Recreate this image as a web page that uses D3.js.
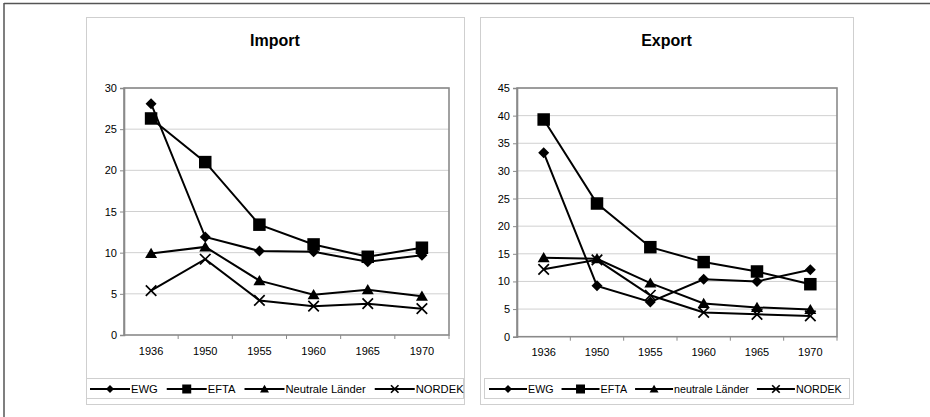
<!DOCTYPE html>
<html><head><meta charset="utf-8">
<script src="https://cdn.jsdelivr.net/npm/d3@7"></script>
<style>body{margin:0;background:#fff;} svg{display:block;font-family:"Liberation Sans",Arial,sans-serif;}</style>
</head><body>
<svg id="c" width="930" height="417"></svg>
<script>
const years = ["1936","1950","1955","1960","1965","1970"];
const importTicks = [0,5,10,15,20,25,30];
const exportTicks = [0,5,10,15,20,25,30,35,40,45];
const importEWG = [28.1,11.9,10.2,10.1,8.9,9.7];
const importEFTA = [26.3,21.0,13.4,11.0,9.5,10.6];
const importNeutral = [9.9,10.7,6.6,4.9,5.5,4.7];
const importNORDEK = [5.4,9.2,4.2,3.5,3.8,3.2];
const exportEWG = [33.3,9.2,6.3,10.4,10.0,12.1];
const exportEFTA = [39.3,24.1,16.2,13.5,11.8,9.5];
const exportNeutral = [14.3,14.1,9.7,6.0,5.3,4.9];
const exportNORDEK = [12.2,13.9,7.5,4.4,4.05,3.75];
const importNames = ["EWG","EFTA","Neutrale Länder","NORDEK"];
const exportNames = ["EWG","EFTA","neutrale Länder","NORDEK"];
const markerTypes = ["diamond","square","triangle","x"];

const svg = d3.select("#c");
// outer frame (top and left edges)
svg.append("line").attr("x1",4).attr("x2",930).attr("y1",3.5).attr("y2",3.5).attr("stroke","#555").attr("stroke-width",1.5);
svg.append("line").attr("x1",4).attr("x2",4).attr("y1",3).attr("y2",417).attr("stroke","#555").attr("stroke-width",1.5);

function markerPath(type, s){
  const h = s/2;
  if(type==="diamond") return `M0,${-h}L${h},0L0,${h}L${-h},0Z`;
  if(type==="square") return `M${-h},${-h}H${h}V${h}H${-h}Z`;
  if(type==="triangle") return `M0,${-h*0.95}L${h},${h*0.75}L${-h},${h*0.75}Z`;
  return `M${-h},${-h}L${h},${h}M${h},${-h}L${-h},${h}`;
}
function drawMarker(g, type, x, y, s){
  const p = g.append("path").attr("d", markerPath(type, s)).attr("transform",`translate(${x},${y})`);
  if(type==="x") p.attr("fill","none").attr("stroke","#000").attr("stroke-width",1.7);
  else p.attr("fill","#000").attr("stroke","none");
}

function chart(cfg){
  const g = svg.append("g");
  g.append("rect").attr("x",cfg.box[0]+0.5).attr("y",cfg.box[1]+0.5)
    .attr("width",cfg.box[2]-cfg.box[0]).attr("height",cfg.box[3]-cfg.box[1])
    .attr("fill","#fff").attr("stroke","#cfcfcf").attr("stroke-width",1);
  g.append("text").attr("x",(cfg.box[0]+cfg.box[2])/2).attr("y",46).attr("text-anchor","middle")
    .attr("font-weight","bold").attr("font-size",16).text(cfg.title);
  const [L,T,R,B] = cfg.plot;
  const x = d3.scaleBand().domain(years).range([L,R]).paddingInner(0).paddingOuter(0);
  const y = d3.scaleLinear().domain([0, d3.max(cfg.ticks)]).range([B,T]);
  // gridlines
  g.append("g").selectAll("line").data(cfg.ticks.filter(t=>t>0)).join("line")
    .attr("x1",L).attr("x2",R).attr("y1",d=>y(d)).attr("y2",d=>y(d))
    .attr("stroke","#d0d0d0").attr("stroke-width",1);
  // plot border
  g.append("rect").attr("x",L).attr("y",T).attr("width",R-L).attr("height",B-T)
    .attr("fill","none").attr("stroke","#8a8a8a").attr("stroke-width",1.6);
  // y axis
  const ya = g.append("g").attr("transform",`translate(${L},0)`)
    .call(d3.axisLeft(y).tickValues(cfg.ticks).tickSize(4).tickPadding(3).tickFormat(d3.format("d")));
  ya.select(".domain").attr("stroke","#8a8a8a").attr("stroke-width",1.6);
  ya.selectAll(".tick line").attr("stroke","#8a8a8a");
  ya.selectAll("text").attr("font-size",11).attr("font-family","Liberation Sans, Arial, sans-serif").attr("fill","#000");
  // x axis: ticks at band boundaries
  const xa = g.append("g").attr("transform",`translate(0,${B})`)
    .call(d3.axisBottom(x).tickSize(0).tickPadding(12));
  xa.select(".domain").remove();
  xa.selectAll("text").attr("font-size",11).attr("font-family","Liberation Sans, Arial, sans-serif").attr("fill","#000");
  g.append("g").selectAll("line").data(years.slice(1)).join("line")
    .attr("x1",d=>x(d)).attr("x2",d=>x(d)).attr("y1",B).attr("y2",B+4)
    .attr("stroke","#8a8a8a").attr("stroke-width",1);
  g.append("line").attr("x1",R).attr("x2",R).attr("y1",B).attr("y2",B+4).attr("stroke","#8a8a8a");
  // series
  const line = d3.line().x((d,i)=>x(years[i])+x.bandwidth()/2).y(d=>y(d));
  const msize = {diamond:11, square:12.5, triangle:12, x:10.5};
  cfg.series.forEach((s,si)=>{
    g.append("path").attr("d",line(s)).attr("fill","none").attr("stroke","#000").attr("stroke-width",2);
  });
  cfg.series.forEach((s,si)=>{
    const t = markerTypes[si];
    s.forEach((v,i)=>drawMarker(g, t, x(years[i])+x.bandwidth()/2, y(v), msize[t]));
  });
  // legend
  const lg = cfg.legend;
  g.append("rect").attr("x",lg[0]+0.5).attr("y",lg[1]+0.5).attr("width",lg[2]-lg[0]).attr("height",lg[3]-lg[1])
    .attr("fill","none").attr("stroke","#cfcfcf");
  const cy = (lg[1]+lg[3])/2+1;
  let cx = cfg.legStart;
  const lsize = {diamond:8, square:9, triangle:9, x:7.5};
  cfg.names.forEach((n,i)=>{
    g.append("line").attr("x1",cx).attr("x2",cx+cfg.segLen).attr("y1",cy).attr("y2",cy).attr("stroke","#000").attr("stroke-width",2);
    drawMarker(g, markerTypes[i], cx+cfg.segLen/2, cy, lsize[markerTypes[i]]);
    const tx = g.append("text").attr("x",cx+cfg.segLen+1).attr("y",cy+4).attr("font-size",cfg.legFont).text(n);
    cx += cfg.segLen + 1 + tx.node().getComputedTextLength() + cfg.gap;
  });
}

chart({title:"Import", box:[86,17,464,404], plot:[124,88,449,335], ticks:importTicks,
  series:[importEWG,importEFTA,importNeutral,importNORDEK], names:importNames,
  legend:[86,378,463,398], legStart:90, segLen:40, gap:9, legFont:11.2});
chart({title:"Export", box:[480,17,853,404], plot:[517,88,837,336.7], ticks:exportTicks,
  series:[exportEWG,exportEFTA,exportNeutral,exportNORDEK], names:exportNames,
  legend:[484,378,849,398], legStart:489, segLen:38, gap:8, legFont:10.7});
</script>
</body></html>
